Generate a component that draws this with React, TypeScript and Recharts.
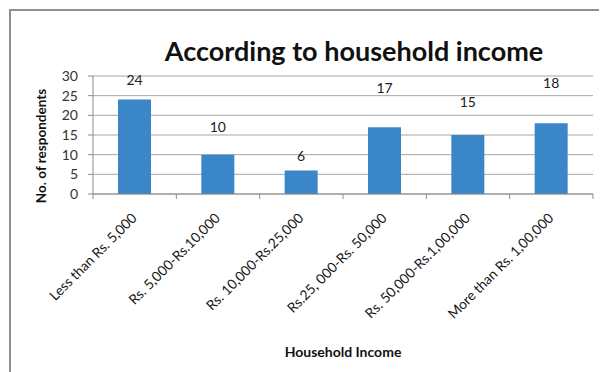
import { Bar, BarChart, CartesianGrid, LabelList, XAxis, YAxis } from 'recharts'

// Income brackets on the x axis
const categories = [
  'Less than Rs. 5,000',
  'Rs. 5,000-Rs.10,000',
  'Rs. 10,000-Rs.25,000',
  'Rs.25, 000-Rs. 50,000',
  'Rs. 50,000-Rs.1,00,000',
  'More than Rs. 1,00,000'
]

// Number of respondents per bracket
const respondents = [24, 10, 6, 17, 15, 18]

const yTicks = [0, 5, 10, 15, 20, 25, 30]

// how far each value label sits above its bar (the source places them by hand)
const labelLift = [20, 28, 15, 40, 34, 41]

const data = categories.map((name, i) => ({ name, value: respondents[i] }))

const FONT = 'Lato, "Open Sans", sans-serif'
const PLOT_WIDTH = 500
const BAND = PLOT_WIDTH / categories.length

const IncomeTick = (props: any) => {
  const { x, y, payload, index } = props
  const half = BAND / 2
  return (
    <g>
      <line x1={x - half} y1={y} x2={x - half} y2={y + 5} stroke="#8c8c8c" />
      {index === categories.length - 1 && (
        <line x1={x + half} y1={y} x2={x + half} y2={y + 5} stroke="#8c8c8c" />
      )}
      <text
        transform={`translate(${x + 3}, ${y + 25}) rotate(-45)`}
        textAnchor="end"
        fontSize={13.8}
        fontFamily={FONT}
        fill="#151515"
      >
        {payload.value}
      </text>
    </g>
  )
}

const ValueLabel = (props: any) => {
  const { x, y, width, value, index } = props
  return (
    <text
      x={x + width / 2}
      y={y - labelLift[index]}
      textAnchor="middle"
      dominantBaseline="central"
      fontSize={14}
      fontFamily={FONT}
      fill="#222"
    >
      {value}
    </text>
  )
}

const YTitle = (props: any) => {
  const { viewBox } = props
  const cx = viewBox.x + viewBox.width / 2 - 9.5
  const cy = viewBox.y + viewBox.height / 2 + 11
  return (
    <text
      transform={`translate(${cx}, ${cy}) rotate(-90)`}
      textAnchor="middle"
      dominantBaseline="central"
      fontSize={13.5}
      fontWeight={700}
      fontFamily={FONT}
      fill="#111"
    >
      No. of respondents
    </text>
  )
}

export default function App() {
  return (
    <div style={{ position: 'relative', width: 599, height: 364, overflow: 'hidden', background: '#fff' }}>
      <div
        style={{
          position: 'absolute',
          left: 1,
          top: 1,
          width: 700,
          height: 500,
          border: '2px solid #8f8f8f'
        }}
      />
      <div
        style={{
          position: 'absolute',
          left: 146,
          top: 27,
          width: 400,
          textAlign: 'center',
          fontFamily: FONT,
          fontWeight: 700,
          fontSize: 27,
          lineHeight: '32px',
          color: '#111'
        }}
      >
        According to household income
      </div>
      <div style={{ position: 'absolute', left: 0, top: 0 }}>
        <BarChart
          width={599}
          height={364}
          data={data}
          margin={{ top: 68, right: 14, left: 0, bottom: 0 }}
        >
          <CartesianGrid vertical={false} stroke="#a6a6a6" />
          <XAxis
            dataKey="name"
            interval={0}
            height={178}
            tickLine={false}
            tickSize={0}
            tickMargin={0}
            axisLine={{ stroke: '#8c8c8c' }}
            tick={<IncomeTick />}
            label={{
              value: 'Household Income',
              position: 'insideBottom',
              offset: 15,
              fontSize: 14,
              fontWeight: 700,
              fontFamily: FONT,
              fill: '#111'
            }}
          />
          <YAxis
            width={85}
            domain={[0, 30]}
            ticks={yTicks}
            interval={0}
            tickSize={5}
            tickMargin={10}
            tickLine={{ stroke: '#8c8c8c' }}
            axisLine={{ stroke: '#8c8c8c' }}
            tick={{ fontSize: 14, fontFamily: FONT, fill: '#333' }}
            label={<YTitle />}
          />
          <Bar dataKey="value" fill="#3b86c8" barSize={33} isAnimationActive={false}>
            <LabelList dataKey="value" content={<ValueLabel />} />
          </Bar>
        </BarChart>
      </div>
    </div>
  )
}
